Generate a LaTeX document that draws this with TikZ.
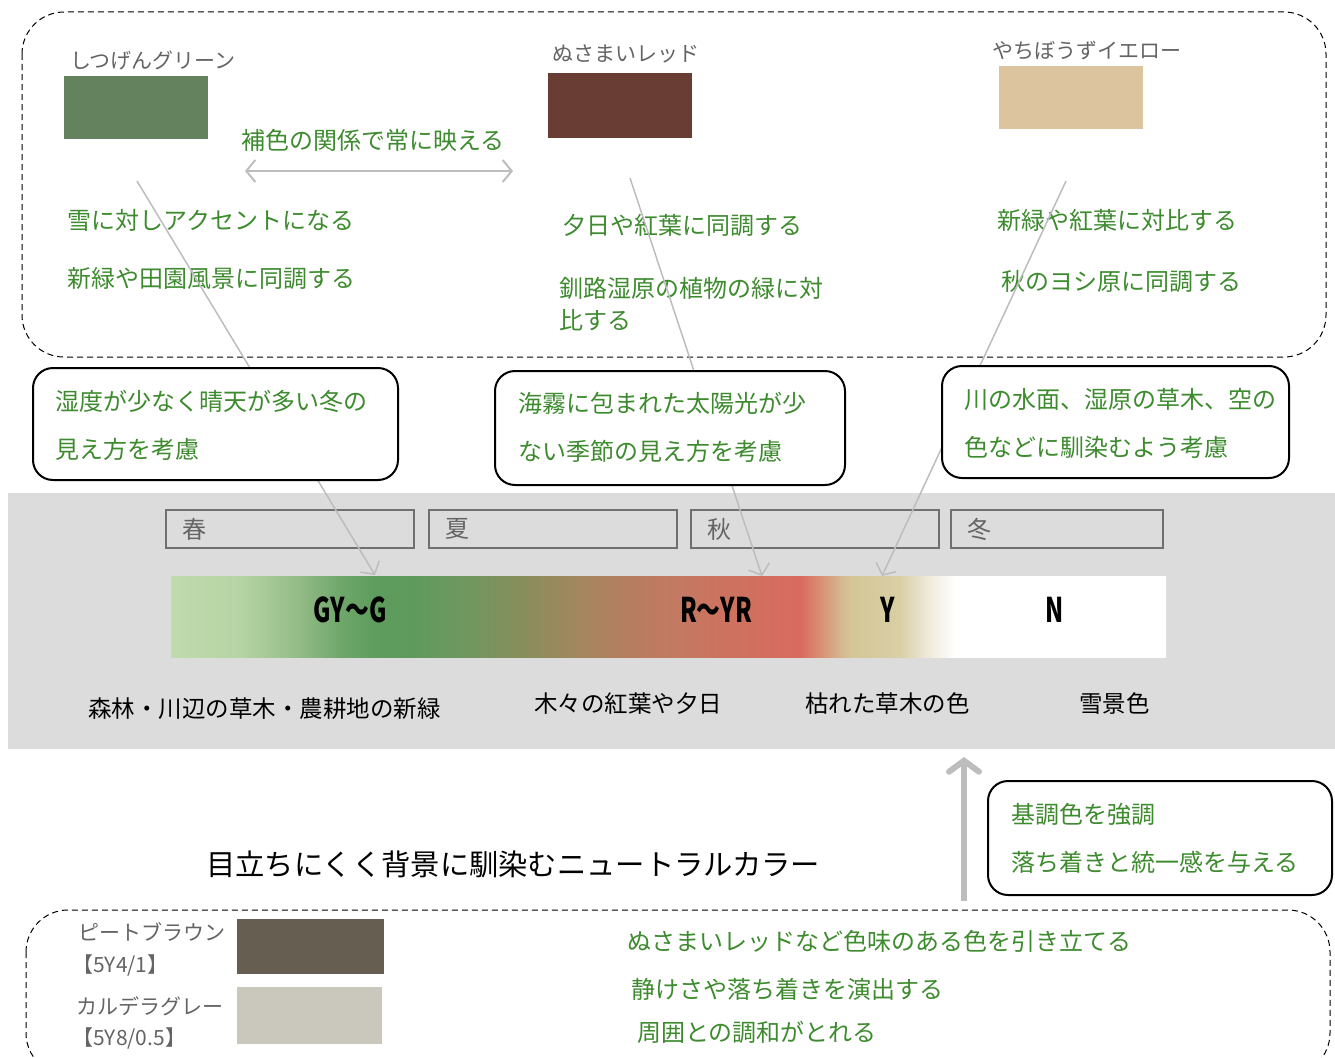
\documentclass[tikz,border=0pt]{standalone}
\usepackage{fontspec}
\setmainfont{Noto Sans CJK JP}
\usetikzlibrary{arrows.meta}
\definecolor{txtgreen}{HTML}{3D8B2E}
\definecolor{lblgray}{HTML}{646464}
\definecolor{linegray}{HTML}{BDBDBD}
\definecolor{bggray}{HTML}{DCDCDC}
\definecolor{seasongray}{HTML}{707070}
\definecolor{swgreen}{HTML}{63825D}
\definecolor{swred}{HTML}{6A3D34}
\definecolor{swyellow}{HTML}{DCC59E}
\definecolor{swbrown}{HTML}{665E50}
\definecolor{swgray}{HTML}{CAC7BC}
\definecolor{s1}{HTML}{C0DBAD}
\definecolor{s2}{HTML}{B6D4A5}
\definecolor{s3}{HTML}{93BB86}
\definecolor{s4}{HTML}{6FA76B}
\definecolor{s5}{HTML}{5E9D5E}
\definecolor{s6}{HTML}{5F9A5D}
\definecolor{s7}{HTML}{6E9860}
\definecolor{s8}{HTML}{8A8D5C}
\definecolor{s9}{HTML}{A2875E}
\definecolor{s10}{HTML}{B67D60}
\definecolor{s11}{HTML}{C27A62}
\definecolor{s12}{HTML}{CD725F}
\definecolor{s13}{HTML}{D96A60}
\definecolor{s14}{HTML}{D88F72}
\definecolor{s15}{HTML}{D5B68F}
\definecolor{s16}{HTML}{D4C797}
\definecolor{s17}{HTML}{D9CFA6}
\definecolor{s18}{HTML}{EEE9D8}
\pgfdeclarehorizontalshading{spectrum}{100bp}{color(0bp)=(s1); color(25bp)=(s1); color(28.47bp)=(s2); color(31.48bp)=(s3); color(33.49bp)=(s4); color(35.15bp)=(s5); color(37.16bp)=(s6); color(39.52bp)=(s7); color(42.89bp)=(s8); color(45.40bp)=(s9); color(47.91bp)=(s10); color(50.23bp)=(s11); color(52.94bp)=(s12); color(56.61bp)=(s13); color(57.61bp)=(s14); color(58.62bp)=(s15); color(59.27bp)=(s16); color(61.63bp)=(s17); color(62.99bp)=(s18); color(64.40bp)=(white); color(100bp)=(white)}
\tikzset{
  gtxt/.style={anchor=west, inner sep=0pt, text=txtgreen, font=\fontsize{24}{28}\selectfont},
  ctxt/.style={anchor=west, inner sep=0pt, text=txtgreen, font=\fontsize{24}{28}\selectfont},
  glbl/.style={anchor=west, inner sep=0pt, text=lblgray, font=\fontsize{21}{25}\selectfont},
  blk/.style={anchor=west, inner sep=0pt, text=black, font=\fontsize{23.5}{27}\selectfont},
  callout/.style={draw=black, line width=2pt, rounded corners=20pt, fill=white, inner sep=0pt},
  seasonbox/.style={draw=seasongray, line width=2pt, anchor=north west, inner sep=0pt},
  seasonlbl/.style={anchor=west, inner sep=0pt, text=lblgray, font=\fontsize{24}{28}\selectfont},
  pointer/.style={draw=linegray, line width=1.5pt, -{Straight Barb[length=9pt,width=22pt]}},
  code/.style={inner sep=0pt, text=black, font=\fontsize{34}{36}\selectfont\bfseries},
  frame/.style={draw=black, line width=1pt, dash pattern=on 6pt off 4pt, rounded corners=42pt}
}
\begin{document}
\begin{tikzpicture}[x=1pt,y=-1pt]
\useasboundingbox (0,0) rectangle (1335,1057);
\begin{scope}
\clip (0,0) rectangle (1335,1057);
% top frame
\draw[frame] (22,12) rectangle (1326,357);
% swatches
\node[glbl] (lg) at (70,60) {しつげんグリーン};
\fill[swgreen] (64,76) rectangle (208,139);
\node[glbl] (lr) at (552,54) {ぬさまいレッド};
\fill[swred] (548,73) rectangle (692,138);
\node[glbl] (ly) at (992,50) {やちぼうずイエロー};
\fill[swyellow] (999,66) rectangle (1143,129);
% complementary arrow
\node[gtxt] (comp) at (241,140) {補色の関係で常に映える};
\coordinate (ca) at (245,171);
\coordinate (cb) at (513,171);
\draw[linegray, line width=2pt, {Straight Barb[length=9pt,width=22pt]}-{Straight Barb[length=9pt,width=22pt]}] (ca) -- (cb);
% green texts
\node[gtxt] at (67,220) {雪に対しアクセントになる};
\node[gtxt] at (67,278) {新緑や田園風景に同調する};
\node[gtxt] at (562,225) {夕日や紅葉に同調する};
\node[gtxt] at (559,288) {釧路湿原の植物の緑に対};
\node[gtxt] at (559,320) {比する};
\node[gtxt] at (997,220) {新緑や紅葉に対比する};
\node[gtxt] at (1001,281) {秋のヨシ原に同調する};
% gray band
\fill[bggray] (8,493) rectangle (1335,749);
% seasons
\node[seasonbox, minimum width=248pt, minimum height=38pt] (spring) at (165,509) {};
\node[seasonbox, minimum width=248pt, minimum height=38pt] (summer) at (428,509) {};
\node[seasonbox, minimum width=248pt, minimum height=38pt] (autumn) at (690,509) {};
\node[seasonbox, minimum width=212pt, minimum height=38pt] (winter) at (950,509) {};
\node[seasonlbl] at ([xshift=17pt]spring.west) {春};
\node[seasonlbl] at ([xshift=17pt]summer.west) {夏};
\node[seasonlbl] at ([xshift=17pt]autumn.west) {秋};
\node[seasonlbl] at ([xshift=17pt]winter.west) {冬};
% bar
\shade[shading=spectrum] (171,576) rectangle (1166,657);
\node[code] (cg) at (350,610) {\scalebox{0.7}[1]{GY～G}};
\node[code] (cr) at (716,610) {\scalebox{0.7}[1]{R～YR}};
\node[code] (cy) at (888,610) {\scalebox{0.7}[1]{Y}};
\node[code] (cn) at (1055,610) {\scalebox{0.7}[1]{N}};
\node[blk] at (88,709) {森林・川辺の草木・農耕地の新緑};
\node[blk] at (534,704) {木々の紅葉や夕日};
\node[blk] at (805,704) {枯れた草木の色};
\node[blk] at (1079,704) {雪景色};
% pointers
\coordinate (p1s) at (137,181);
\coordinate (p1e) at (375,575);
\coordinate (p2s) at (630,178);
\coordinate (p2e) at (762,576);
\coordinate (p3s) at (1066,181);
\coordinate (p3e) at (882,576);
\draw[pointer] (p1s) -- (p1e);
\draw[pointer] (p2s) -- (p2e);
\draw[pointer] (p3s) -- (p3e);
% callouts
\node[callout, minimum width=365pt, minimum height=112pt] (c1) at (215.5,424) {};
\node[ctxt] at (55,401) {湿度が少なく晴天が多い冬の};
\node[ctxt] at (55,449) {見え方を考慮};
\node[callout, minimum width=350pt, minimum height=114pt] (c2) at (670,428) {};
\node[ctxt] at (518,403) {海霧に包まれた太陽光が少};
\node[ctxt] at (518,451) {ない季節の見え方を考慮};
\node[callout, minimum width=347pt, minimum height=112pt] (c3) at (1115.5,422) {};
\node[ctxt] at (964,399) {川の水面、湿原の草木、空の};
\node[ctxt] at (964,447) {色などに馴染むよう考慮};
% big arrow
\coordinate (ba) at (964,901);
\coordinate (bb) at (964,757);
\draw[linegray, line width=6pt, -{Straight Barb[length=11pt,width=30pt,line cap=round]}] (ba) -- (bb);
\node[callout, minimum width=344pt, minimum height=114pt] (c4) at (1160,838) {};
\node[ctxt] at (1011,814) {基調色を強調};
\node[ctxt] at (1011,862) {落ち着きと統一感を与える};
% title
\node[anchor=west, inner sep=0pt, font=\fontsize{29.3}{34}\selectfont] (title) at (206,864) {目立ちにくく背景に馴染むニュートラルカラー};
% bottom frame
\draw[frame] (26,910) rectangle (1330,1075);
\node[glbl] at (78,932) {ピートブラウン};
\node[glbl] at (72,965) {【5Y4/1】};
\fill[swbrown] (237,919) rectangle (384,974);
\node[glbl] at (76,1006) {カルデラグレー};
\node[glbl] at (72,1038) {【5Y8/0.5】};
\fill[swgray] (237,987) rectangle (382,1044);
\node[ctxt] at (627,941) {ぬさまいレッドなど色味のある色を引き立てる};
\node[ctxt] at (631,989) {静けさや落ち着きを演出する};
\node[ctxt] at (637,1032) {周囲との調和がとれる};
\end{scope}
\end{tikzpicture}
\end{document}
